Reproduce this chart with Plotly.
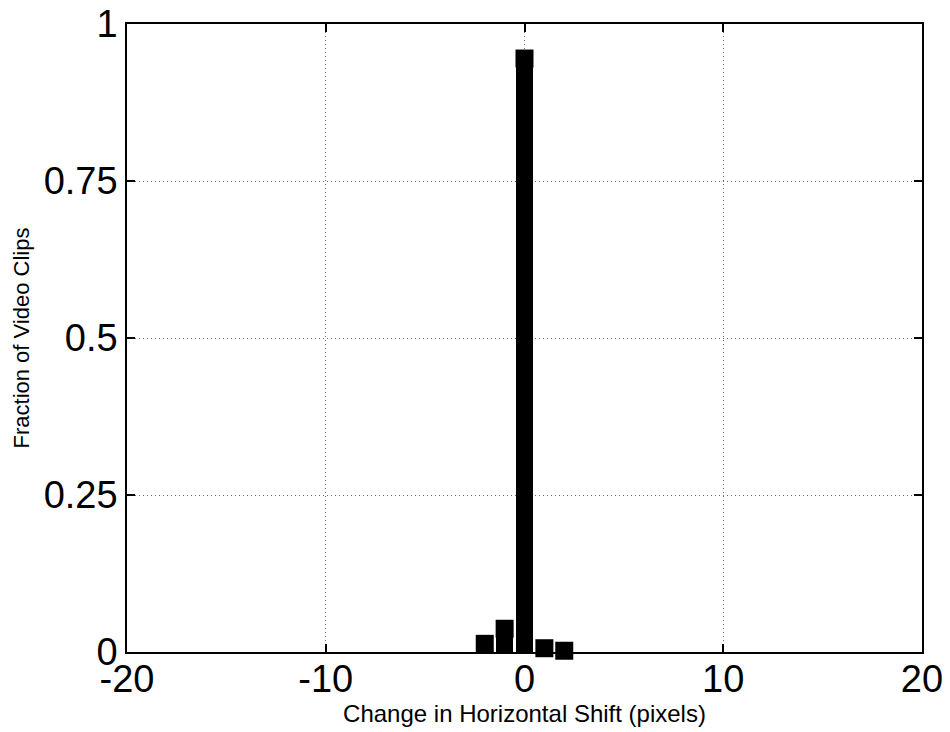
import plotly.graph_objects as go

shift = [-2, -1, 0, 1, 2]
fraction = [0.013, 0.037, 0.945, 0.006, 0.002]

x_ticks = [-20, -10, 0, 10, 20]
x_ticktext = ["-20", "-10", "0", "10", "20"]
y_ticks = [0, 0.25, 0.5, 0.75, 1]
y_ticktext = ["0", "0.25", "0.5", "0.75", "1"]

fig = go.Figure()
fig.add_trace(go.Bar(x=shift, y=fraction, width=0.85,
                     marker=dict(color="black", line=dict(width=0)),
                     showlegend=False))
fig.add_trace(go.Scatter(x=shift, y=fraction, mode="markers",
                         marker=dict(symbol="square", size=18, color="black", line=dict(width=0)),
                         showlegend=False, cliponaxis=False))

axis_common = dict(
    showline=True, linecolor="black", linewidth=1.5, mirror="ticks",
    ticks="inside", ticklen=8, tickcolor="black", tickwidth=1.5,
    showgrid=True, gridcolor="#6a6a6a", griddash="1px,3px", gridwidth=1,
    zeroline=False, automargin=False,
    tickfont=dict(family="Liberation Sans, Arial", size=38, color="black"),
)

fig.update_layout(
    width=950, height=732,
    paper_bgcolor="white", plot_bgcolor="white",
    margin=dict(l=127, r=28, t=24, b=80),
    bargap=0,
    xaxis=dict(range=[-20, 20], tickvals=x_ticks, ticktext=x_ticktext,
               ticklabelstandoff=-7,
               title=dict(text="Change in Horizontal Shift (pixels)", standoff=2,
                          font=dict(family="Liberation Sans, Arial", size=24, color="black")),
               **axis_common),
    yaxis=dict(range=[0, 1], tickvals=y_ticks, ticktext=y_ticktext,
               title=dict(text="Fraction of Video Clips", standoff=8,
                          font=dict(family="Liberation Sans, Arial", size=22, color="black")),
               **axis_common),
)

fig.write_html("out.html")
